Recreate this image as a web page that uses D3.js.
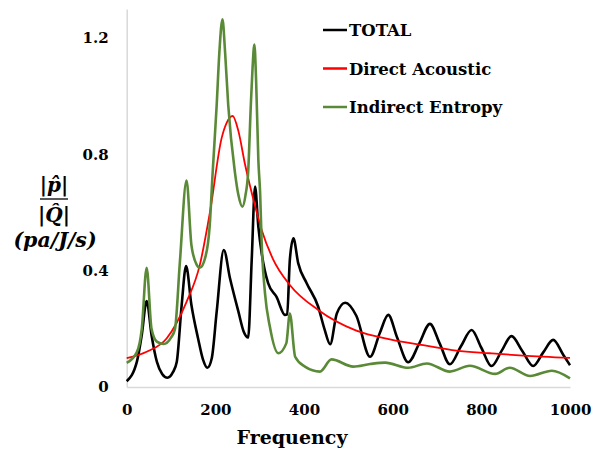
<!DOCTYPE html>
<html>
<head>
<meta charset="utf-8">
<script src="https://cdn.jsdelivr.net/npm/d3@7"></script>
<style>
  body { margin: 0; background: #fff; }
  svg { display: block; }
</style>
</head>
<body>
<div id="chart"></div>
<script>
/*---------- DATA ----------*/
// Frequency samples, one list per curve
const totalFreq = [0, 23, 34, 45, 56, 68, 80, 92, 104, 113, 124, 134, 146, 161, 172, 182, 192, 203, 219, 233, 252, 264, 274, 282, 289.5, 297, 304.5, 319, 338, 357, 362, 368, 376, 387, 406, 432, 446, 459, 474, 493, 518, 549, 571, 590, 610, 635, 660, 684, 706, 729, 754, 778, 800, 823, 846, 868, 892, 917, 940, 962, 985, 1000];
const totalVals = [0.02, 0.087, 0.179, 0.296, 0.179, 0.087, 0.045, 0.032, 0.05, 0.087, 0.282, 0.416, 0.282, 0.167, 0.095, 0.066, 0.1, 0.259, 0.471, 0.374, 0.259, 0.19, 0.17, 0.437, 0.689, 0.551, 0.46, 0.357, 0.31, 0.248, 0.25, 0.437, 0.511, 0.425, 0.357, 0.276, 0.2, 0.147, 0.253, 0.29, 0.245, 0.104, 0.186, 0.248, 0.17, 0.085, 0.15, 0.217, 0.15, 0.078, 0.14, 0.196, 0.135, 0.072, 0.125, 0.175, 0.125, 0.072, 0.12, 0.162, 0.11, 0.075];

const directFreq = [0, 45, 90, 135, 165, 188, 214, 226, 239, 252, 267, 289, 304.5, 330, 368, 432, 518, 594, 669, 744, 819, 894, 1000];
const directVals = [0.099, 0.121, 0.167, 0.293, 0.42, 0.603, 0.855, 0.91, 0.932, 0.88, 0.765, 0.626, 0.54, 0.44, 0.351, 0.265, 0.194, 0.164, 0.144, 0.125, 0.116, 0.108, 0.1];

const entropyFreq = [0, 23, 34, 45, 56, 68, 83, 100, 109, 120, 135, 146, 158, 165, 178, 187, 194, 203, 209, 216, 222, 229, 244, 252, 261, 268, 274, 280, 284, 288, 292, 297, 301, 304.5, 312, 323, 342, 360, 368, 380, 402, 436, 462, 511, 549, 583, 635, 677, 729, 774, 831, 864, 910, 959, 1000];
const entropyVals = [0.083, 0.12, 0.2, 0.41, 0.2, 0.156, 0.148, 0.17, 0.2, 0.43, 0.71, 0.488, 0.42, 0.41, 0.45, 0.55, 0.74, 0.97, 1.15, 1.265, 1.15, 0.97, 0.74, 0.66, 0.62, 0.66, 0.74, 0.97, 1.1, 1.178, 1.05, 0.78, 0.666, 0.494, 0.322, 0.207, 0.116, 0.15, 0.253, 0.104, 0.07, 0.053, 0.095, 0.07, 0.079, 0.084, 0.066, 0.081, 0.053, 0.073, 0.045, 0.066, 0.038, 0.056, 0.03];

const xTicks = [0, 200, 400, 600, 800, 1000];
const yTicks = [0, 0.4, 0.8, 1.2];

const seriesNames = ["TOTAL", "Direct Acoustic", "Indirect Entropy"];
const seriesColors = ["#000000", "#ff0000", "#5a8a37"];
const seriesWidths = [2.6, 1.8, 2.6];

/*---------- PLOTTING ----------*/
const width = 592;
const height = 450;

const svg = d3
  .select("#chart")
  .append("svg")
  .attr("width", width)
  .attr("height", height);

let x = d3.scaleLinear().domain([0, 1000]).range([126.7, 570]);
let y = d3.scaleLinear().domain([0, 1.3]).range([387, 9]);

// Axes: light grey domain lines, no tick marks
const tickFont = "'DejaVu Serif', serif";

svg
  .append("g")
  .attr("transform", `translate(0, ${y(0)})`)
  .call(d3.axisBottom(x).tickValues(xTicks).tickSize(0).tickPadding(17).tickFormat(d3.format("d")))
  .call((g) => g.select(".domain").attr("stroke", "#d9d9d9").attr("stroke-width", 1.5))
  .call((g) =>
    g.selectAll("text")
      .attr("font-family", tickFont)
      .attr("font-weight", "bold")
      .attr("font-size", 15)
      .attr("fill", "#000")
  );

svg
  .append("g")
  .attr("transform", `translate(${x(0)}, 0)`)
  .call(d3.axisLeft(y).tickValues(yTicks).tickSize(0).tickPadding(18).tickFormat((d) => (d === 0 ? "0" : d3.format(".1f")(d))))
  .call((g) => g.select(".domain").attr("stroke", "#d9d9d9").attr("stroke-width", 1.5))
  .call((g) =>
    g.selectAll("text")
      .attr("font-family", tickFont)
      .attr("font-weight", "bold")
      .attr("font-size", 15)
      .attr("fill", "#000")
  );

// Axis title
svg
  .append("text")
  .attr("x", 292)
  .attr("y", 444)
  .attr("text-anchor", "middle")
  .attr("font-family", tickFont)
  .attr("font-weight", "bold")
  .attr("font-size", 19)
  .text("Frequency");

// Y label as a fraction
const yLab = svg
  .append("g")
  .attr("font-family", tickFont)
  .attr("font-weight", "bold")
  .attr("font-style", "italic")
  .attr("text-anchor", "middle");

yLab.append("text").attr("x", 54).attr("y", 192).attr("font-size", 20).text("|p\u0302|");
yLab.append("line")
  .attr("x1", 40).attr("x2", 68)
  .attr("y1", 199).attr("y2", 199)
  .attr("stroke", "#000").attr("stroke-width", 1.3);
yLab.append("text").attr("x", 54).attr("y", 222).attr("font-size", 20).text("|Q\u0302|");
yLab.append("text").attr("x", 55).attr("y", 247).attr("font-size", 20.5).text("(pa/J/s)");

// Lines
let line = d3
  .line()
  .x((d) => x(d[0]))
  .y((d) => y(d[1]))
  .curve(d3.curveMonotoneX);

const series = [
  d3.zip(totalFreq, totalVals),
  d3.zip(directFreq, directVals),
  d3.zip(entropyFreq, entropyVals),
];

svg
  .selectAll("path.series")
  .data(series)
  .join("path")
  .attr("class", "series")
  .attr("d", line)
  .attr("fill", "none")
  .attr("stroke", (_, i) => seriesColors[i])
  .attr("stroke-width", (_, i) => seriesWidths[i])
  .attr("stroke-linejoin", "round");

// Legend
const legend = svg
  .selectAll("g.legend")
  .data(seriesNames)
  .join("g")
  .attr("class", "legend")
  .attr("transform", (_, i) => `translate(323, ${30 + i * 38.5})`);

legend
  .append("line")
  .attr("x1", 0)
  .attr("x2", 24)
  .attr("stroke", (_, i) => seriesColors[i])
  .attr("stroke-width", 2.5);

legend
  .append("text")
  .attr("x", 26)
  .attr("y", 6)
  .attr("font-family", tickFont)
  .attr("font-weight", "bold")
  .attr("font-size", 16.5)
  .text((d) => d);
</script>
</body>
</html>
